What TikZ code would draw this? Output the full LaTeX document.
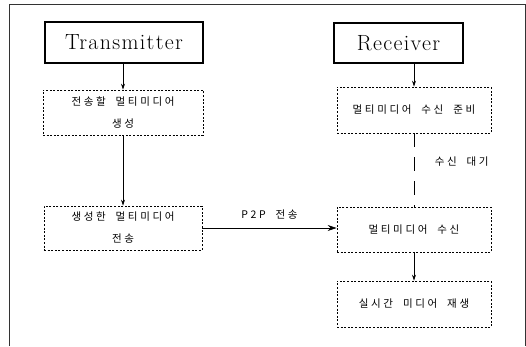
\documentclass[tikz,border=0pt]{standalone}
\usepackage{fontspec}
\newfontfamily\kofont[LetterSpace=25, WordSpace=2]{Noto Sans CJK KR}
\newfontfamily\rolefont[LetterSpace=6]{Latin Modern Roman}
\usetikzlibrary{positioning,arrows.meta}

\begin{document}
\begin{tikzpicture}[x=1pt, y=-1pt,
    roleBox/.style={rectangle, draw=black, line width=1.3pt, font=\rolefont\fontsize{22}{24}\selectfont, inner sep=0pt},
    stepBox/.style={rectangle, draw=black, dash pattern=on 2pt off 1.6pt, line width=0.8pt, font=\kofont\fontsize{10.5}{22}\selectfont, align=center, inner sep=0pt},
    arrowStyle/.style={-{Stealth[length=6pt, width=4pt]}, line width=0.7pt, draw=black}
]
    \useasboundingbox (0,0) rectangle (526,346);
    \draw[line width=0.9pt, draw=black!80] (9,346) -- (9,4) -- (525,4) -- (525,346);

    % sender side
    \node[roleBox, minimum width=158pt, minimum height=41pt] (trans) at (124, 42.5) {Transmitter};
    \node[stepBox, minimum width=160pt, minimum height=45pt] (genBox) at (123, 112.5) {전송할 멀티미디어\\생성};
    \node[stepBox, minimum width=158pt, minimum height=44pt] (sendBox) at (123, 228) {생성한 멀티미디어\\전송};

    % receiver side
    \node[roleBox, minimum width=129pt, minimum height=40pt] (recv) at (398.5, 43) {Receiver};
    \node[stepBox, minimum width=154pt, minimum height=46pt] (readyBox) at (414, 110) {멀티미디어 수신 준비};
    \node[stepBox, minimum width=154pt, minimum height=45pt] (rxBox) at (414, 229.5) {멀티미디어 수신};
    \node[stepBox, minimum width=154pt, minimum height=46pt] (playBox) at (414, 304) {실시간 미디어 재생};

    \draw[arrowStyle] (trans.south -| genBox.north) -- (genBox.north);
    \draw[arrowStyle] (genBox.south) -- (sendBox.north);
    \draw[arrowStyle, -{Stealth[length=9pt, width=6pt]}] (sendBox.east) -- (sendBox.east -| rxBox.west)
        node[midway, above=5pt, font=\kofont\fontsize{10.5}{12}\selectfont] (p2pLabel) {P2P 전송};

    \draw[arrowStyle] (recv.south -| readyBox.north) -- (readyBox.north);
    \draw[line width=0.9pt, dash pattern=on 14pt off 10pt] (readyBox.south) -- (rxBox.north)
        node[pos=0.38, right=17pt, font=\kofont\fontsize{10.5}{12}\selectfont] (waitLabel) {수신 대기};
    \draw[arrowStyle] (rxBox.south) -- (playBox.north);
\end{tikzpicture}
\end{document}
